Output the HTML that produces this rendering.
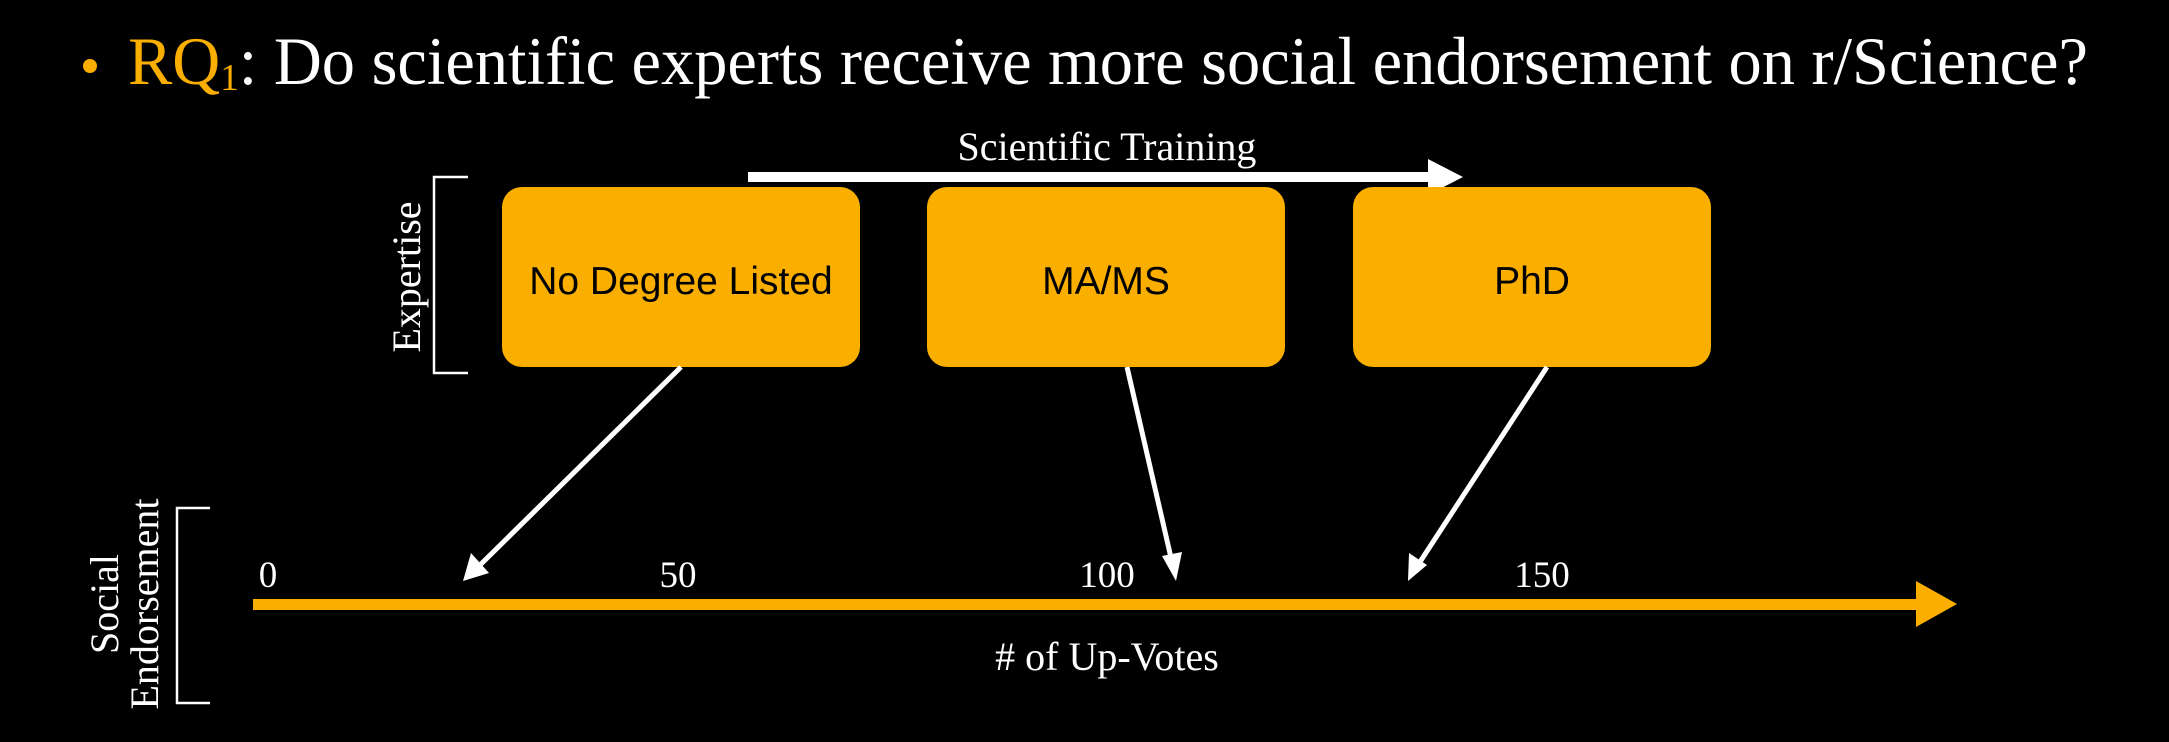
<!DOCTYPE html>
<html><head><meta charset="utf-8"><style>
html,body{margin:0;padding:0;background:#000;}
svg{display:block;}
</style></head><body>
<svg width="2169" height="742" viewBox="0 0 2169 742" xmlns="http://www.w3.org/2000/svg">
<rect width="2169" height="742" fill="#000"/>
<circle cx="90" cy="66" r="7" fill="#F9AE00"/>
<text x="128" y="84" font-family="Liberation Serif, serif" font-size="68" fill="#fff" textLength="1960" lengthAdjust="spacingAndGlyphs"><tspan fill="#F9AE00">RQ</tspan><tspan fill="#F9AE00" font-size="38" dy="6">1</tspan><tspan dy="-6">: Do scientific experts receive more social endorsement on r/Science?</tspan></text>

<text x="1107" y="160" text-anchor="middle" font-family="Liberation Serif, serif" font-size="40" fill="#fff">Scientific Training</text>
<rect x="748" y="172" width="685" height="10" fill="#fff"/>
<polygon points="1428,159 1463,177 1428,195" fill="#fff"/>

<path d="M468 177 H434 V373 H468" fill="none" stroke="#fff" stroke-width="2.5"/>
<text transform="translate(420,277) rotate(-90)" text-anchor="middle" font-family="Liberation Serif, serif" font-size="40" fill="#fff">Expertise</text>

<rect x="502" y="187" width="358" height="180" rx="20" fill="#F9AE00"/>
<rect x="927" y="187" width="358" height="180" rx="20" fill="#F9AE00"/>
<rect x="1353" y="187" width="358" height="180" rx="20" fill="#F9AE00"/>
<g font-family="Liberation Sans, sans-serif" font-size="39" fill="#000" text-anchor="middle">
<text x="681" y="294">No Degree Listed</text>
<text x="1106" y="294">MA/MS</text>
<text x="1532" y="294">PhD</text>
</g>

<g stroke="#fff" stroke-width="5">
<line x1="681" y1="367" x2="478" y2="567"/>
<line x1="1127" y1="367" x2="1172" y2="562"/>
<line x1="1547" y1="367" x2="1418" y2="565"/>
</g>
<g fill="#fff">
<polygon points="463,581 471,553 489,573"/>
<polygon points="1176,581 1162,556 1182,552"/>
<polygon points="1408,581 1409,553 1427,565"/>
</g>

<rect x="253" y="599" width="1670" height="11" fill="#F9AE00"/>
<polygon points="1916,581 1957,604 1916,627" fill="#F9AE00"/>
<g font-family="Liberation Serif, serif" font-size="37" fill="#fff" text-anchor="middle">
<text x="268" y="587">0</text>
<text x="678" y="587">50</text>
<text x="1107" y="587">100</text>
<text x="1542" y="587">150</text>
<text x="1107" y="670" font-size="40"># of Up-Votes</text>
</g>

<path d="M210 508 H177 V703 H210" fill="none" stroke="#fff" stroke-width="2.5"/>
<g font-family="Liberation Serif, serif" font-size="40" fill="#fff" text-anchor="middle">
<text transform="translate(118,604) rotate(-90)">Social</text>
<text transform="translate(158,604) rotate(-90)">Endorsement</text>
</g>
</svg>
</body></html>
